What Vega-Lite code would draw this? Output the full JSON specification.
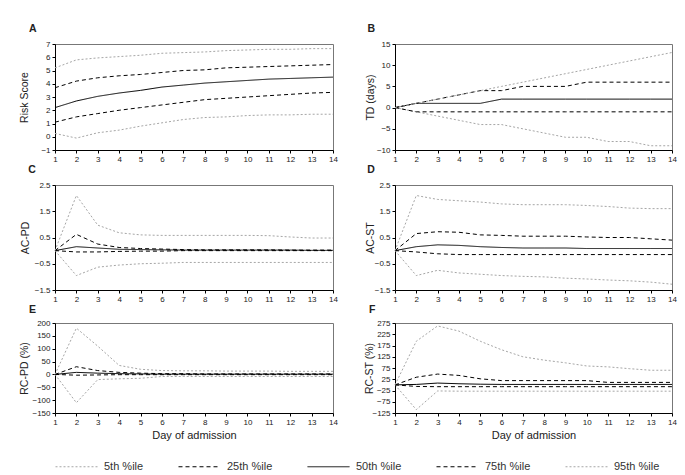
{
"$schema": "https://vega.github.io/schema/vega-lite/v6.json",
"padding": {"left": 19, "top": 23, "right": 5, "bottom": 5},
"background": "white",
"datasets": {
"A": [
{"d":1,"p":"5th %ile","v":0.25},{"d":2,"p":"5th %ile","v":-0.1},{"d":3,"p":"5th %ile","v":0.3},{"d":4,"p":"5th %ile","v":0.5},{"d":5,"p":"5th %ile","v":0.8},{"d":6,"p":"5th %ile","v":1.05},{"d":7,"p":"5th %ile","v":1.3},{"d":8,"p":"5th %ile","v":1.45},{"d":9,"p":"5th %ile","v":1.5},{"d":10,"p":"5th %ile","v":1.6},{"d":11,"p":"5th %ile","v":1.65},{"d":12,"p":"5th %ile","v":1.65},{"d":13,"p":"5th %ile","v":1.7},{"d":14,"p":"5th %ile","v":1.7},
{"d":1,"p":"25th %ile","v":1.1},{"d":2,"p":"25th %ile","v":1.5},{"d":3,"p":"25th %ile","v":1.75},{"d":4,"p":"25th %ile","v":2.0},{"d":5,"p":"25th %ile","v":2.2},{"d":6,"p":"25th %ile","v":2.4},{"d":7,"p":"25th %ile","v":2.6},{"d":8,"p":"25th %ile","v":2.8},{"d":9,"p":"25th %ile","v":2.9},{"d":10,"p":"25th %ile","v":3.0},{"d":11,"p":"25th %ile","v":3.1},{"d":12,"p":"25th %ile","v":3.2},{"d":13,"p":"25th %ile","v":3.3},{"d":14,"p":"25th %ile","v":3.35},
{"d":1,"p":"50th %ile","v":2.2},{"d":2,"p":"50th %ile","v":2.7},{"d":3,"p":"50th %ile","v":3.05},{"d":4,"p":"50th %ile","v":3.3},{"d":5,"p":"50th %ile","v":3.5},{"d":6,"p":"50th %ile","v":3.75},{"d":7,"p":"50th %ile","v":3.9},{"d":8,"p":"50th %ile","v":4.05},{"d":9,"p":"50th %ile","v":4.15},{"d":10,"p":"50th %ile","v":4.25},{"d":11,"p":"50th %ile","v":4.35},{"d":12,"p":"50th %ile","v":4.4},{"d":13,"p":"50th %ile","v":4.45},{"d":14,"p":"50th %ile","v":4.5},
{"d":1,"p":"75th %ile","v":3.7},{"d":2,"p":"75th %ile","v":4.2},{"d":3,"p":"75th %ile","v":4.45},{"d":4,"p":"75th %ile","v":4.6},{"d":5,"p":"75th %ile","v":4.7},{"d":6,"p":"75th %ile","v":4.85},{"d":7,"p":"75th %ile","v":5.0},{"d":8,"p":"75th %ile","v":5.05},{"d":9,"p":"75th %ile","v":5.2},{"d":10,"p":"75th %ile","v":5.25},{"d":11,"p":"75th %ile","v":5.3},{"d":12,"p":"75th %ile","v":5.35},{"d":13,"p":"75th %ile","v":5.4},{"d":14,"p":"75th %ile","v":5.45},
{"d":1,"p":"95th %ile","v":5.2},{"d":2,"p":"95th %ile","v":5.8},{"d":3,"p":"95th %ile","v":5.95},{"d":4,"p":"95th %ile","v":6.05},{"d":5,"p":"95th %ile","v":6.15},{"d":6,"p":"95th %ile","v":6.3},{"d":7,"p":"95th %ile","v":6.35},{"d":8,"p":"95th %ile","v":6.4},{"d":9,"p":"95th %ile","v":6.5},{"d":10,"p":"95th %ile","v":6.55},{"d":11,"p":"95th %ile","v":6.6},{"d":12,"p":"95th %ile","v":6.6},{"d":13,"p":"95th %ile","v":6.65},{"d":14,"p":"95th %ile","v":6.65}
],
"B": [
{"d":1,"p":"5th %ile","v":0},{"d":2,"p":"5th %ile","v":-1},{"d":3,"p":"5th %ile","v":-2},{"d":4,"p":"5th %ile","v":-3},{"d":5,"p":"5th %ile","v":-4},{"d":6,"p":"5th %ile","v":-4},{"d":7,"p":"5th %ile","v":-5},{"d":8,"p":"5th %ile","v":-6},{"d":9,"p":"5th %ile","v":-7},{"d":10,"p":"5th %ile","v":-7},{"d":11,"p":"5th %ile","v":-8},{"d":12,"p":"5th %ile","v":-8},{"d":13,"p":"5th %ile","v":-9},{"d":14,"p":"5th %ile","v":-9},
{"d":1,"p":"25th %ile","v":0},{"d":2,"p":"25th %ile","v":-1},{"d":3,"p":"25th %ile","v":-1},{"d":4,"p":"25th %ile","v":-1},{"d":5,"p":"25th %ile","v":-1},{"d":6,"p":"25th %ile","v":-1},{"d":7,"p":"25th %ile","v":-1},{"d":8,"p":"25th %ile","v":-1},{"d":9,"p":"25th %ile","v":-1},{"d":10,"p":"25th %ile","v":-1},{"d":11,"p":"25th %ile","v":-1},{"d":12,"p":"25th %ile","v":-1},{"d":13,"p":"25th %ile","v":-1},{"d":14,"p":"25th %ile","v":-1},
{"d":1,"p":"50th %ile","v":0},{"d":2,"p":"50th %ile","v":1},{"d":3,"p":"50th %ile","v":1},{"d":4,"p":"50th %ile","v":1},{"d":5,"p":"50th %ile","v":1},{"d":6,"p":"50th %ile","v":2},{"d":7,"p":"50th %ile","v":2},{"d":8,"p":"50th %ile","v":2},{"d":9,"p":"50th %ile","v":2},{"d":10,"p":"50th %ile","v":2},{"d":11,"p":"50th %ile","v":2},{"d":12,"p":"50th %ile","v":2},{"d":13,"p":"50th %ile","v":2},{"d":14,"p":"50th %ile","v":2},
{"d":1,"p":"75th %ile","v":0},{"d":2,"p":"75th %ile","v":1},{"d":3,"p":"75th %ile","v":2},{"d":4,"p":"75th %ile","v":3},{"d":5,"p":"75th %ile","v":4},{"d":6,"p":"75th %ile","v":4},{"d":7,"p":"75th %ile","v":5},{"d":8,"p":"75th %ile","v":5},{"d":9,"p":"75th %ile","v":5},{"d":10,"p":"75th %ile","v":6},{"d":11,"p":"75th %ile","v":6},{"d":12,"p":"75th %ile","v":6},{"d":13,"p":"75th %ile","v":6},{"d":14,"p":"75th %ile","v":6},
{"d":1,"p":"95th %ile","v":0},{"d":2,"p":"95th %ile","v":1},{"d":3,"p":"95th %ile","v":2},{"d":4,"p":"95th %ile","v":3},{"d":5,"p":"95th %ile","v":4},{"d":6,"p":"95th %ile","v":5},{"d":7,"p":"95th %ile","v":6},{"d":8,"p":"95th %ile","v":7},{"d":9,"p":"95th %ile","v":8},{"d":10,"p":"95th %ile","v":9},{"d":11,"p":"95th %ile","v":10},{"d":12,"p":"95th %ile","v":11},{"d":13,"p":"95th %ile","v":12},{"d":14,"p":"95th %ile","v":13}
],
"C": [
{"d":1,"p":"5th %ile","v":0},{"d":2,"p":"5th %ile","v":-0.95},{"d":3,"p":"5th %ile","v":-0.63},{"d":4,"p":"5th %ile","v":-0.55},{"d":5,"p":"5th %ile","v":-0.5},{"d":6,"p":"5th %ile","v":-0.48},{"d":7,"p":"5th %ile","v":-0.45},{"d":8,"p":"5th %ile","v":-0.45},{"d":9,"p":"5th %ile","v":-0.45},{"d":10,"p":"5th %ile","v":-0.45},{"d":11,"p":"5th %ile","v":-0.45},{"d":12,"p":"5th %ile","v":-0.45},{"d":13,"p":"5th %ile","v":-0.45},{"d":14,"p":"5th %ile","v":-0.45},
{"d":1,"p":"25th %ile","v":0},{"d":2,"p":"25th %ile","v":-0.05},{"d":3,"p":"25th %ile","v":-0.05},{"d":4,"p":"25th %ile","v":-0.03},{"d":5,"p":"25th %ile","v":-0.02},{"d":6,"p":"25th %ile","v":-0.02},{"d":7,"p":"25th %ile","v":0},{"d":8,"p":"25th %ile","v":0},{"d":9,"p":"25th %ile","v":0},{"d":10,"p":"25th %ile","v":0},{"d":11,"p":"25th %ile","v":0},{"d":12,"p":"25th %ile","v":0},{"d":13,"p":"25th %ile","v":0},{"d":14,"p":"25th %ile","v":0},
{"d":1,"p":"50th %ile","v":0},{"d":2,"p":"50th %ile","v":0.15},{"d":3,"p":"50th %ile","v":0.1},{"d":4,"p":"50th %ile","v":0.05},{"d":5,"p":"50th %ile","v":0.04},{"d":6,"p":"50th %ile","v":0.03},{"d":7,"p":"50th %ile","v":0.02},{"d":8,"p":"50th %ile","v":0.02},{"d":9,"p":"50th %ile","v":0.02},{"d":10,"p":"50th %ile","v":0.02},{"d":11,"p":"50th %ile","v":0.02},{"d":12,"p":"50th %ile","v":0.02},{"d":13,"p":"50th %ile","v":0.01},{"d":14,"p":"50th %ile","v":0.01},
{"d":1,"p":"75th %ile","v":0},{"d":2,"p":"75th %ile","v":0.62},{"d":3,"p":"75th %ile","v":0.25},{"d":4,"p":"75th %ile","v":0.12},{"d":5,"p":"75th %ile","v":0.08},{"d":6,"p":"75th %ile","v":0.06},{"d":7,"p":"75th %ile","v":0.04},{"d":8,"p":"75th %ile","v":0.03},{"d":9,"p":"75th %ile","v":0.03},{"d":10,"p":"75th %ile","v":0.03},{"d":11,"p":"75th %ile","v":0.03},{"d":12,"p":"75th %ile","v":0.02},{"d":13,"p":"75th %ile","v":0.02},{"d":14,"p":"75th %ile","v":0.02},
{"d":1,"p":"95th %ile","v":0},{"d":2,"p":"95th %ile","v":2.1},{"d":3,"p":"95th %ile","v":0.97},{"d":4,"p":"95th %ile","v":0.68},{"d":5,"p":"95th %ile","v":0.6},{"d":6,"p":"95th %ile","v":0.58},{"d":7,"p":"95th %ile","v":0.58},{"d":8,"p":"95th %ile","v":0.58},{"d":9,"p":"95th %ile","v":0.58},{"d":10,"p":"95th %ile","v":0.58},{"d":11,"p":"95th %ile","v":0.57},{"d":12,"p":"95th %ile","v":0.52},{"d":13,"p":"95th %ile","v":0.48},{"d":14,"p":"95th %ile","v":0.48}
],
"D": [
{"d":1,"p":"5th %ile","v":0},{"d":2,"p":"5th %ile","v":-0.95},{"d":3,"p":"5th %ile","v":-0.75},{"d":4,"p":"5th %ile","v":-0.85},{"d":5,"p":"5th %ile","v":-0.9},{"d":6,"p":"5th %ile","v":-0.95},{"d":7,"p":"5th %ile","v":-0.98},{"d":8,"p":"5th %ile","v":-1.0},{"d":9,"p":"5th %ile","v":-1.05},{"d":10,"p":"5th %ile","v":-1.08},{"d":11,"p":"5th %ile","v":-1.12},{"d":12,"p":"5th %ile","v":-1.15},{"d":13,"p":"5th %ile","v":-1.2},{"d":14,"p":"5th %ile","v":-1.28},
{"d":1,"p":"25th %ile","v":0},{"d":2,"p":"25th %ile","v":-0.05},{"d":3,"p":"25th %ile","v":-0.12},{"d":4,"p":"25th %ile","v":-0.15},{"d":5,"p":"25th %ile","v":-0.15},{"d":6,"p":"25th %ile","v":-0.15},{"d":7,"p":"25th %ile","v":-0.15},{"d":8,"p":"25th %ile","v":-0.15},{"d":9,"p":"25th %ile","v":-0.15},{"d":10,"p":"25th %ile","v":-0.15},{"d":11,"p":"25th %ile","v":-0.15},{"d":12,"p":"25th %ile","v":-0.15},{"d":13,"p":"25th %ile","v":-0.15},{"d":14,"p":"25th %ile","v":-0.15},
{"d":1,"p":"50th %ile","v":0},{"d":2,"p":"50th %ile","v":0.15},{"d":3,"p":"50th %ile","v":0.22},{"d":4,"p":"50th %ile","v":0.2},{"d":5,"p":"50th %ile","v":0.15},{"d":6,"p":"50th %ile","v":0.12},{"d":7,"p":"50th %ile","v":0.1},{"d":8,"p":"50th %ile","v":0.1},{"d":9,"p":"50th %ile","v":0.1},{"d":10,"p":"50th %ile","v":0.08},{"d":11,"p":"50th %ile","v":0.08},{"d":12,"p":"50th %ile","v":0.08},{"d":13,"p":"50th %ile","v":0.08},{"d":14,"p":"50th %ile","v":0.08},
{"d":1,"p":"75th %ile","v":0},{"d":2,"p":"75th %ile","v":0.65},{"d":3,"p":"75th %ile","v":0.72},{"d":4,"p":"75th %ile","v":0.7},{"d":5,"p":"75th %ile","v":0.6},{"d":6,"p":"75th %ile","v":0.58},{"d":7,"p":"75th %ile","v":0.55},{"d":8,"p":"75th %ile","v":0.55},{"d":9,"p":"75th %ile","v":0.55},{"d":10,"p":"75th %ile","v":0.52},{"d":11,"p":"75th %ile","v":0.5},{"d":12,"p":"75th %ile","v":0.5},{"d":13,"p":"75th %ile","v":0.45},{"d":14,"p":"75th %ile","v":0.4},
{"d":1,"p":"95th %ile","v":0},{"d":2,"p":"95th %ile","v":2.1},{"d":3,"p":"95th %ile","v":1.95},{"d":4,"p":"95th %ile","v":1.9},{"d":5,"p":"95th %ile","v":1.85},{"d":6,"p":"95th %ile","v":1.78},{"d":7,"p":"95th %ile","v":1.75},{"d":8,"p":"95th %ile","v":1.75},{"d":9,"p":"95th %ile","v":1.75},{"d":10,"p":"95th %ile","v":1.72},{"d":11,"p":"95th %ile","v":1.68},{"d":12,"p":"95th %ile","v":1.62},{"d":13,"p":"95th %ile","v":1.6},{"d":14,"p":"95th %ile","v":1.6}
],
"E": [
{"d":1,"p":"5th %ile","v":0},{"d":2,"p":"5th %ile","v":-110},{"d":3,"p":"5th %ile","v":-20},{"d":4,"p":"5th %ile","v":-17},{"d":5,"p":"5th %ile","v":-15},{"d":6,"p":"5th %ile","v":-8},{"d":7,"p":"5th %ile","v":-8},{"d":8,"p":"5th %ile","v":-8},{"d":9,"p":"5th %ile","v":-8},{"d":10,"p":"5th %ile","v":-8},{"d":11,"p":"5th %ile","v":-8},{"d":12,"p":"5th %ile","v":-8},{"d":13,"p":"5th %ile","v":-8},{"d":14,"p":"5th %ile","v":-8},
{"d":1,"p":"25th %ile","v":0},{"d":2,"p":"25th %ile","v":-3},{"d":3,"p":"25th %ile","v":-2},{"d":4,"p":"25th %ile","v":-1},{"d":5,"p":"25th %ile","v":-1},{"d":6,"p":"25th %ile","v":-1},{"d":7,"p":"25th %ile","v":-1},{"d":8,"p":"25th %ile","v":-1},{"d":9,"p":"25th %ile","v":-1},{"d":10,"p":"25th %ile","v":-1},{"d":11,"p":"25th %ile","v":-1},{"d":12,"p":"25th %ile","v":-1},{"d":13,"p":"25th %ile","v":-1},{"d":14,"p":"25th %ile","v":-1},
{"d":1,"p":"50th %ile","v":0},{"d":2,"p":"50th %ile","v":8},{"d":3,"p":"50th %ile","v":5},{"d":4,"p":"50th %ile","v":3},{"d":5,"p":"50th %ile","v":2},{"d":6,"p":"50th %ile","v":1},{"d":7,"p":"50th %ile","v":1},{"d":8,"p":"50th %ile","v":1},{"d":9,"p":"50th %ile","v":1},{"d":10,"p":"50th %ile","v":1},{"d":11,"p":"50th %ile","v":1},{"d":12,"p":"50th %ile","v":1},{"d":13,"p":"50th %ile","v":1},{"d":14,"p":"50th %ile","v":1},
{"d":1,"p":"75th %ile","v":0},{"d":2,"p":"75th %ile","v":30},{"d":3,"p":"75th %ile","v":15},{"d":4,"p":"75th %ile","v":8},{"d":5,"p":"75th %ile","v":5},{"d":6,"p":"75th %ile","v":3},{"d":7,"p":"75th %ile","v":3},{"d":8,"p":"75th %ile","v":2},{"d":9,"p":"75th %ile","v":2},{"d":10,"p":"75th %ile","v":2},{"d":11,"p":"75th %ile","v":2},{"d":12,"p":"75th %ile","v":2},{"d":13,"p":"75th %ile","v":2},{"d":14,"p":"75th %ile","v":2},
{"d":1,"p":"95th %ile","v":0},{"d":2,"p":"95th %ile","v":180},{"d":3,"p":"95th %ile","v":110},{"d":4,"p":"95th %ile","v":35},{"d":5,"p":"95th %ile","v":20},{"d":6,"p":"95th %ile","v":15},{"d":7,"p":"95th %ile","v":14},{"d":8,"p":"95th %ile","v":14},{"d":9,"p":"95th %ile","v":13},{"d":10,"p":"95th %ile","v":13},{"d":11,"p":"95th %ile","v":13},{"d":12,"p":"95th %ile","v":12},{"d":13,"p":"95th %ile","v":12},{"d":14,"p":"95th %ile","v":12}
],
"F": [
{"d":1,"p":"5th %ile","v":0},{"d":2,"p":"5th %ile","v":-110},{"d":3,"p":"5th %ile","v":-27},{"d":4,"p":"5th %ile","v":-28},{"d":5,"p":"5th %ile","v":-28},{"d":6,"p":"5th %ile","v":-28},{"d":7,"p":"5th %ile","v":-28},{"d":8,"p":"5th %ile","v":-28},{"d":9,"p":"5th %ile","v":-28},{"d":10,"p":"5th %ile","v":-28},{"d":11,"p":"5th %ile","v":-28},{"d":12,"p":"5th %ile","v":-28},{"d":13,"p":"5th %ile","v":-28},{"d":14,"p":"5th %ile","v":-28},
{"d":1,"p":"25th %ile","v":0},{"d":2,"p":"25th %ile","v":-7},{"d":3,"p":"25th %ile","v":-8},{"d":4,"p":"25th %ile","v":-8},{"d":5,"p":"25th %ile","v":-8},{"d":6,"p":"25th %ile","v":-8},{"d":7,"p":"25th %ile","v":-8},{"d":8,"p":"25th %ile","v":-8},{"d":9,"p":"25th %ile","v":-8},{"d":10,"p":"25th %ile","v":-8},{"d":11,"p":"25th %ile","v":-8},{"d":12,"p":"25th %ile","v":-8},{"d":13,"p":"25th %ile","v":-8},{"d":14,"p":"25th %ile","v":-8},
{"d":1,"p":"50th %ile","v":0},{"d":2,"p":"50th %ile","v":2},{"d":3,"p":"50th %ile","v":8},{"d":4,"p":"50th %ile","v":5},{"d":5,"p":"50th %ile","v":3},{"d":6,"p":"50th %ile","v":2},{"d":7,"p":"50th %ile","v":2},{"d":8,"p":"50th %ile","v":2},{"d":9,"p":"50th %ile","v":2},{"d":10,"p":"50th %ile","v":2},{"d":11,"p":"50th %ile","v":2},{"d":12,"p":"50th %ile","v":2},{"d":13,"p":"50th %ile","v":2},{"d":14,"p":"50th %ile","v":2},
{"d":1,"p":"75th %ile","v":0},{"d":2,"p":"75th %ile","v":34},{"d":3,"p":"75th %ile","v":48},{"d":4,"p":"75th %ile","v":42},{"d":5,"p":"75th %ile","v":27},{"d":6,"p":"75th %ile","v":19},{"d":7,"p":"75th %ile","v":19},{"d":8,"p":"75th %ile","v":19},{"d":9,"p":"75th %ile","v":19},{"d":10,"p":"75th %ile","v":19},{"d":11,"p":"75th %ile","v":11},{"d":12,"p":"75th %ile","v":11},{"d":13,"p":"75th %ile","v":11},{"d":14,"p":"75th %ile","v":11},
{"d":1,"p":"95th %ile","v":0},{"d":2,"p":"95th %ile","v":194},{"d":3,"p":"95th %ile","v":262},{"d":4,"p":"95th %ile","v":239},{"d":5,"p":"95th %ile","v":194},{"d":6,"p":"95th %ile","v":156},{"d":7,"p":"95th %ile","v":125},{"d":8,"p":"95th %ile","v":110},{"d":9,"p":"95th %ile","v":98},{"d":10,"p":"95th %ile","v":84},{"d":11,"p":"95th %ile","v":80},{"d":12,"p":"95th %ile","v":72},{"d":13,"p":"95th %ile","v":65},{"d":14,"p":"95th %ile","v":65}
]
},
"columns": 2,
"align": "each",
"spacing": {"row": 0, "column": 26},
"concat": [
{
"width": 278, "height": 106,
"title": {"text": "A", "dx": 9, "offset": 6},
"data": {"name": "A"},
"mark": {"type": "line", "strokeWidth": 1},
"encoding": {
"x": {"field": "d", "type": "quantitative", "scale": {"domain": [1, 14], "nice": false}, "axis": {"values": [1,2,3,4,5,6,7,8,9,10,11,12,13,14], "title": null}},
"y": {"field": "v", "type": "quantitative", "scale": {"domain": [-1, 7], "nice": false, "zero": false}, "axis": {"values": [-1,0,1,2,3,4,5,6,7], "title": "Risk Score", "titlePadding": 11}},
"color": {"field": "p", "type": "nominal", "scale": {"domain": ["5th %ile","25th %ile","50th %ile","75th %ile","95th %ile"], "range": ["#a6a6a6","#000000","#000000","#000000","#a6a6a6"]}, "legend": {"title": null, "orient": "bottom", "direction": "horizontal", "columnPadding": 32, "symbolType": "stroke", "symbolSize": 1764, "symbolStrokeWidth": 1, "labelFontSize": 11, "labelOffset": 6, "labelColor": "#333333", "labelFont": "Liberation Sans", "padding": 0, "offset": 4}},
"strokeDash": {"field": "p", "type": "nominal", "scale": {"domain": ["5th %ile","25th %ile","50th %ile","75th %ile","95th %ile"], "range": [[2,2],[4,3],[1,0],[4,3],[2,2]]}, "legend": {"title": null, "orient": "bottom", "direction": "horizontal", "columnPadding": 32, "symbolType": "stroke", "symbolSize": 1764, "symbolStrokeWidth": 1, "labelFontSize": 11, "labelOffset": 6, "labelColor": "#333333", "labelFont": "Liberation Sans", "padding": 0, "offset": 4}}
}
},
{
"width": 277, "height": 106,
"title": {"text": "B", "dx": 2, "offset": 6},
"data": {"name": "B"},
"mark": {"type": "line", "strokeWidth": 1},
"encoding": {
"x": {"field": "d", "type": "quantitative", "scale": {"domain": [1, 14], "nice": false}, "axis": {"values": [1,2,3,4,5,6,7,8,9,10,11,12,13,14], "title": null}},
"y": {"field": "v", "type": "quantitative", "scale": {"domain": [-10, 15], "nice": false, "zero": false}, "axis": {"values": [-10,-5,0,5,10,15], "title": "TD (days)", "titlePadding": 1}},
"color": {"field": "p", "type": "nominal"},
"strokeDash": {"field": "p", "type": "nominal"}
}
},
{
"width": 278, "height": 105,
"title": {"text": "C", "dx": 8, "offset": 6},
"data": {"name": "C"},
"mark": {"type": "line", "strokeWidth": 1},
"encoding": {
"x": {"field": "d", "type": "quantitative", "scale": {"domain": [1, 14], "nice": false}, "axis": {"values": [1,2,3,4,5,6,7,8,9,10,11,12,13,14], "title": null}},
"y": {"field": "v", "type": "quantitative", "scale": {"domain": [-1.5, 2.5], "nice": false, "zero": false}, "axis": {"values": [-1.5,-0.5,0.5,1.5,2.5], "format": ".1f", "title": "AC-PD", "titlePadding": 4}},
"color": {"field": "p", "type": "nominal"},
"strokeDash": {"field": "p", "type": "nominal"}
}
},
{
"width": 277, "height": 105,
"title": {"text": "D", "dx": 2, "offset": 6},
"data": {"name": "D"},
"mark": {"type": "line", "strokeWidth": 1},
"encoding": {
"x": {"field": "d", "type": "quantitative", "scale": {"domain": [1, 14], "nice": false}, "axis": {"values": [1,2,3,4,5,6,7,8,9,10,11,12,13,14], "title": null}},
"y": {"field": "v", "type": "quantitative", "scale": {"domain": [-1.5, 2.5], "nice": false, "zero": false}, "axis": {"values": [-1.5,-0.5,0.5,1.5,2.5], "format": ".1f", "title": "AC-ST", "titlePadding": -1}},
"color": {"field": "p", "type": "nominal"},
"strokeDash": {"field": "p", "type": "nominal"}
}
},
{
"width": 278, "height": 90,
"title": {"text": "E", "dx": 9, "offset": 4},
"data": {"name": "E"},
"mark": {"type": "line", "strokeWidth": 1},
"encoding": {
"x": {"field": "d", "type": "quantitative", "scale": {"domain": [1, 14], "nice": false}, "axis": {"values": [1,2,3,4,5,6,7,8,9,10,11,12,13,14], "title": "Day of admission"}},
"y": {"field": "v", "type": "quantitative", "scale": {"domain": [-150, 200], "nice": false, "zero": false}, "axis": {"values": [-150,-100,-50,0,50,100,150,200], "title": "RC-PD (%)", "titlePadding": 2}},
"color": {"field": "p", "type": "nominal"},
"strokeDash": {"field": "p", "type": "nominal"}
}
},
{
"width": 277, "height": 90,
"title": {"text": "F", "dx": 4, "offset": 4},
"data": {"name": "F"},
"mark": {"type": "line", "strokeWidth": 1},
"encoding": {
"x": {"field": "d", "type": "quantitative", "scale": {"domain": [1, 14], "nice": false}, "axis": {"values": [1,2,3,4,5,6,7,8,9,10,11,12,13,14], "title": "Day of admission"}},
"y": {"field": "v", "type": "quantitative", "scale": {"domain": [-125, 275], "nice": false, "zero": false}, "axis": {"values": [-125,-75,-25,25,75,125,175,225,275], "title": "RC-ST (%)", "titlePadding": -3}},
"color": {"field": "p", "type": "nominal"},
"strokeDash": {"field": "p", "type": "nominal"}
}
}
],
"config": {
"view": {"stroke": "#777777", "strokeWidth": 1},
"font": "Liberation Sans",
"axis": {"labelFont": "Liberation Sans", "labelFontSize": 8, "labelColor": "#222222", "titleFont": "Liberation Sans", "titleFontSize": 10.5, "titleFontWeight": "normal", "titleColor": "#222222", "domainColor": "#000000", "tickColor": "#000000", "tickSize": 3, "labelPadding": 2, "grid": false, "labelFlush": false, "labelOverlap": false},
"axisX": {"titleFontSize": 11, "titlePadding": 3},
"title": {"anchor": "start", "frame": "bounds", "fontSize": 10.5, "fontWeight": "bold", "font": "Liberation Sans", "color": "#222222"}
}
}
